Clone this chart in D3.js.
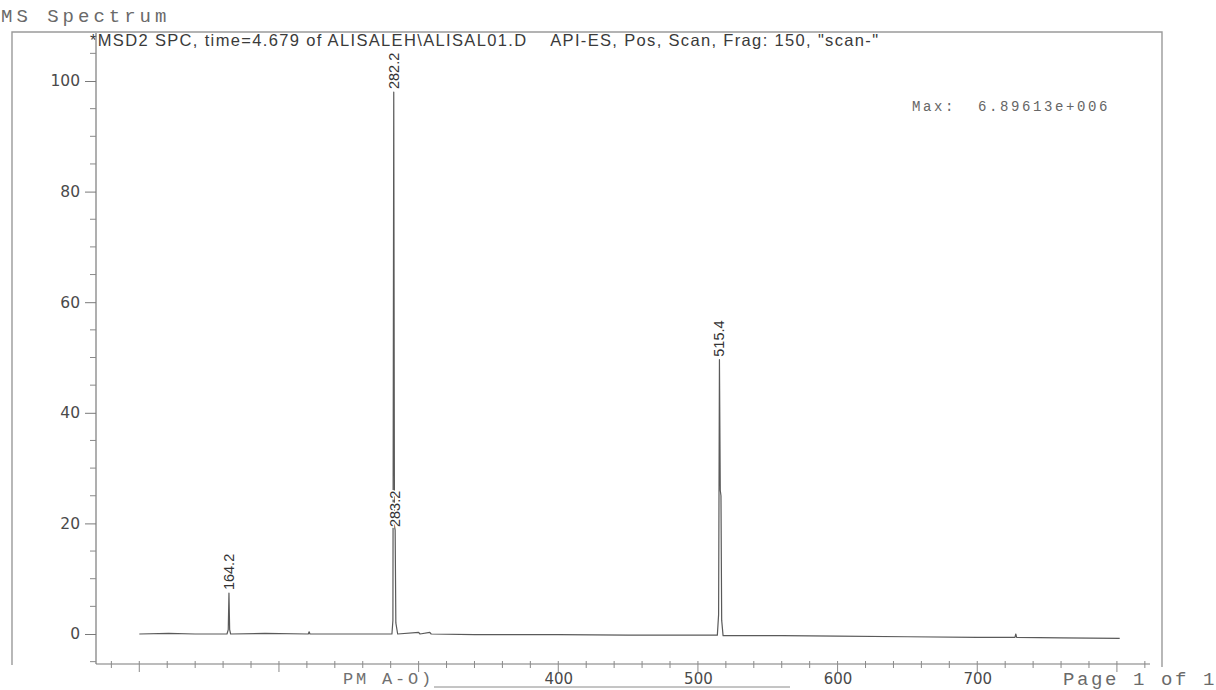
<!DOCTYPE html>
<html>
<head>
<meta charset="utf-8">
<script src="https://cdn.jsdelivr.net/npm/d3@7"></script>
<style>
  body { margin: 0; background: #fff; }
  svg { display: block; }
</style>
</head>
<body>
<svg id="chart" width="1216" height="690"></svg>
<script>
// Relative abundance axis and m/z axis labels
const yTickValues = [0, 20, 40, 60, 80, 100];
const xTickLabelValues = [400, 500, 600, 700];

// Labelled ions: m/z and relative abundance (%)
const peakMz = [164.2, 282.2, 283.2, 515.4];
const peakLabels = ["164.2", "282.2", "283.2", "515.4"];
const peakIntensity = [7.4, 98, 18.8, 49.6];

// Unlabelled profile points around the ions (shoulders / isotopes)
const shoulderMz = [163.7, 164.7, 281.6, 282.7, 283.7, 514.8, 516.0, 516.5, 517.0];
const shoulderIntensity = [0.8, 0.8, 2.5, 19.5, 2.0, 3.5, 26, 25, 2.5];

// Baseline trace between ions
const baselineMz = [100, 121, 140, 162.8, 165.4, 190, 221.0, 221.6, 222.2, 250, 280.9, 285, 300, 301,
  308, 309, 340, 400, 450, 500, 513.9, 518, 560, 600, 650, 700, 727, 727.6, 728.2, 760, 802];
const baselineIntensity = [0.0, 0.1, 0.0, 0.0, 0.0, 0.1, 0.0, 0.4, 0.0, 0.0, 0.0, 0.0, 0.3, 0.0,
  0.3, 0.0, -0.1, -0.1, -0.2, -0.2, -0.2, -0.3, -0.3, -0.4, -0.5, -0.6, -0.6, 0.0, -0.6, -0.7, -0.8];

const headerText = "*MSD2 SPC, time=4.679 of ALISALEH\\ALISAL01.D    API-ES, Pos, Scan, Frag: 150, \"scan-\"";
const maxText = "Max:  6.89613e+006";

const svg = d3.select("#chart");
const mono = "'Liberation Mono', 'DejaVu Sans Mono', monospace";
const sans = "'Liberation Sans', Arial, sans-serif";
const wide = "'DejaVu Sans', Verdana, sans-serif";

// Scales
const x = d3.scaleLinear().domain([69, 833]).range([96, 1163]);
const y = d3.scaleLinear().domain([0, 100]).range([634, 81]);
const axisBottomY = 664;

// Page frame
svg.append("path")
  .attr("d", "M12,665 V32 H1162 V667")
  .attr("fill", "none").attr("stroke", "#9a9a9a").attr("stroke-width", 1.4);

svg.append("text").text("MS Spectrum")
  .attr("x", 1).attr("y", 22)
  .attr("font-family", mono).attr("font-size", 19).attr("letter-spacing", 4)
  .attr("fill", "#6a6a6a");

svg.append("text").text(headerText)
  .attr("x", 90).attr("y", 46)
  .attr("font-family", sans).attr("font-size", 16.5)
  .attr("textLength", 788).attr("lengthAdjust", "spacing")
  .attr("fill", "#3a3a3a").style("white-space", "pre");

svg.append("text").text(maxText)
  .attr("x", 912).attr("y", 111)
  .attr("font-family", mono).attr("font-size", 14).attr("letter-spacing", 2.6)
  .attr("fill", "#666").style("white-space", "pre");

// Y axis
const yAxis = d3.axisLeft(y).tickValues(yTickValues).tickSize(11).tickPadding(5);
const gy = svg.append("g").attr("transform", "translate(96,0)").call(yAxis);
gy.select(".domain").remove();
gy.selectAll(".tick line").attr("stroke", "#7a7a7a");
gy.selectAll(".tick text").attr("font-family", wide).attr("font-size", 15.5).attr("fill", "#4a4a4a");
svg.append("line").attr("x1", 96).attr("x2", 96).attr("y1", 33).attr("y2", axisBottomY)
  .attr("stroke", "#7a7a7a").attr("stroke-width", 1.2);
const yMinor = d3.range(-5, 106, 5).filter(v => v % 20 !== 0);
svg.append("g").selectAll("line").data(yMinor).join("line")
  .attr("x1", 90).attr("x2", 96).attr("y1", d => y(d)).attr("y2", d => y(d))
  .attr("stroke", "#8a8a8a");

// X axis
svg.append("line").attr("x1", 96).attr("x2", 1150).attr("y1", axisBottomY).attr("y2", axisBottomY)
  .attr("stroke", "#7a7a7a").attr("stroke-width", 1.2);
const xMinor = d3.range(80, 821, 20);
svg.append("g").selectAll("line").data(xMinor).join("line")
  .attr("x1", d => x(d)).attr("x2", d => x(d))
  .attr("y1", axisBottomY - 3).attr("y2", d => axisBottomY + (d % 100 === 0 ? 8 : 4))
  .attr("stroke", "#8a8a8a");
const xAxis = d3.axisBottom(x).tickValues(xTickLabelValues).tickSize(0).tickPadding(9);
const gx = svg.append("g").attr("transform", `translate(0,${axisBottomY})`).call(xAxis);
gx.select(".domain").remove();
gx.selectAll(".tick text").attr("font-family", wide).attr("font-size", 15).attr("fill", "#4a4a4a");

// Print residue along the bottom edge
svg.append("text").text("PM A-O)")
  .attr("x", 343).attr("y", 684)
  .attr("font-family", mono).attr("font-size", 17).attr("letter-spacing", 2.8)
  .attr("fill", "#707070").style("white-space", "pre");
svg.append("line").attr("x1", 434).attr("x2", 790).attr("y1", 687).attr("y2", 687)
  .attr("stroke", "#8a8a8a").attr("stroke-width", 1);
svg.append("text").text("Page 1 of 1")
  .attr("x", 1063).attr("y", 685)
  .attr("font-family", mono).attr("font-size", 19).attr("letter-spacing", 2.6)
  .attr("fill", "#6a6a6a").style("white-space", "pre");

// Spectrum trace
const points = [];
baselineMz.forEach((m, i) => points.push([m, baselineIntensity[i]]));
shoulderMz.forEach((m, i) => points.push([m, shoulderIntensity[i]]));
peakMz.forEach((m, i) => points.push([m, peakIntensity[i]]));
points.sort((a, b) => a[0] - b[0]);

const line = d3.line().x(d => x(d[0])).y(d => y(d[1]));
svg.append("path").datum(points)
  .attr("d", line)
  .attr("fill", "none").attr("stroke", "#5a5a5a").attr("stroke-width", 1.2)
  .attr("stroke-linejoin", "round");

// Ion labels, rotated above each apex
svg.append("g").selectAll("text").data(peakMz).join("text")
  .attr("transform", (d, i) => `translate(${x(d) + 5},${y(peakIntensity[i]) - 3}) rotate(-90)`)
  .text((d, i) => peakLabels[i])
  .attr("font-family", sans).attr("font-size", 14.5)
  .attr("fill", "#333")
  .attr("stroke", "#fff").attr("stroke-width", 3).attr("paint-order", "stroke");
</script>
</body>
</html>
